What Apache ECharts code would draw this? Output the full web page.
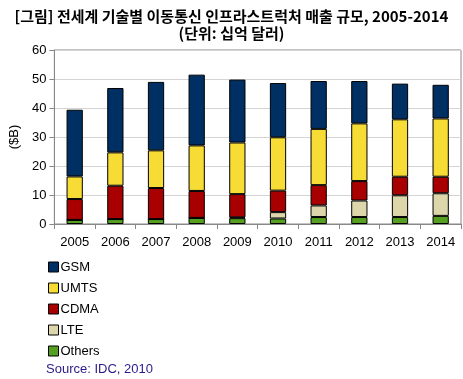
<!DOCTYPE html>
<html>
<head>
<meta charset="utf-8">
<script src="https://cdn.jsdelivr.net/npm/echarts@6/dist/echarts.min.js"></script>
<style>html,body{margin:0;padding:0;background:#fff;}#c{width:463px;height:379px;}</style>
</head>
<body>
<div id="c"></div>
<script>
var years = ['2005','2006','2007','2008','2009','2010','2011','2012','2013','2014'];
var others = [1.4, 1.7, 1.7, 2.1, 2.0, 1.9, 2.4, 2.4, 2.4, 2.8];
var lte    = [0, 0, 0, 0, 0.3, 2.2, 4.0, 5.7, 7.5, 7.8];
var cdma   = [7.2, 11.5, 10.7, 9.3, 8.0, 7.4, 7.0, 6.7, 6.4, 5.7];
var umts   = [7.8, 11.5, 13.0, 15.7, 17.8, 18.4, 19.4, 19.9, 19.8, 20.1];
var gsm    = [23.0, 22.2, 23.6, 24.4, 21.7, 18.7, 16.5, 14.6, 12.3, 11.6];
var yTicks = [0, 10, 20, 30, 40, 50, 60];

var chart = echarts.init(document.getElementById('c'));
function s(name, data, color) {
  return {
    name: name, type: 'bar', stack: 'a', data: data, barWidth: '40%',
    itemStyle: { color: color, borderColor: '#000', borderWidth: 1 }
  };
}
chart.setOption({
  animation: false,
  textStyle: { fontFamily: 'Arial, "Liberation Sans", sans-serif' },
  title: {
    text: '[그림] 전세계 기술별 이동통신 인프라스트럭처 매출 규모, 2005-2014\n(단위: 십억 달러)',
    left: 'center', top: 3,
    textStyle: { fontFamily: '"Noto Sans CJK KR", sans-serif', fontSize: 15, fontWeight: 'bold', color: '#000', lineHeight: 17 }
  },
  grid: { left: 47, right: 2, top: 50, bottom: 155, show: true, borderColor: '#888', borderWidth: 1 },
  legend: {
    orient: 'vertical', left: 43, top: 255,
    itemWidth: 10, itemHeight: 10, itemGap: 7,
    data: ['GSM', 'UMTS', 'CDMA', 'LTE', 'Others'],
    icon: 'rect',
    itemStyle: { borderColor: '#000', borderWidth: 1 },
    textStyle: { fontSize: 13, color: '#000', lineHeight: 14, padding: [0, 0, 0, -3] }
  },
  xAxis: {
    type: 'category', data: years,
    axisLine: { lineStyle: { color: '#888' } },
    axisTick: { show: true, alignWithLabel: false, lineStyle: { color: '#888' } },
    axisLabel: { color: '#000', fontSize: 13, margin: 12 }
  },
  yAxis: {
    type: 'value', min: yTicks[0], max: yTicks[yTicks.length - 1], interval: 10,
    name: '($B)', nameLocation: 'middle', nameGap: 32, nameRotate: 90,
    nameTextStyle: { color: '#000', fontSize: 13 },
    axisLine: { show: true, lineStyle: { color: '#888' } },
    axisTick: { show: true, lineStyle: { color: '#888' } },
    axisLabel: { color: '#000', fontSize: 13, margin: 8 },
    splitLine: { lineStyle: { color: '#d4d4d4' } }
  },
  graphic: [{
    type: 'text', left: 46, top: 363,
    style: { text: 'Source: IDC, 2010', fill: '#2a1a8a', font: '13px Arial, "Liberation Sans", sans-serif' }
  }],
  series: [
    s('Others', others, '#55a021'),
    s('LTE', lte, '#ddd6aa'),
    s('CDMA', cdma, '#a80000'),
    s('UMTS', umts, '#f7dc36'),
    s('GSM', gsm, '#003063')
  ]
});
</script>
</body>
</html>
